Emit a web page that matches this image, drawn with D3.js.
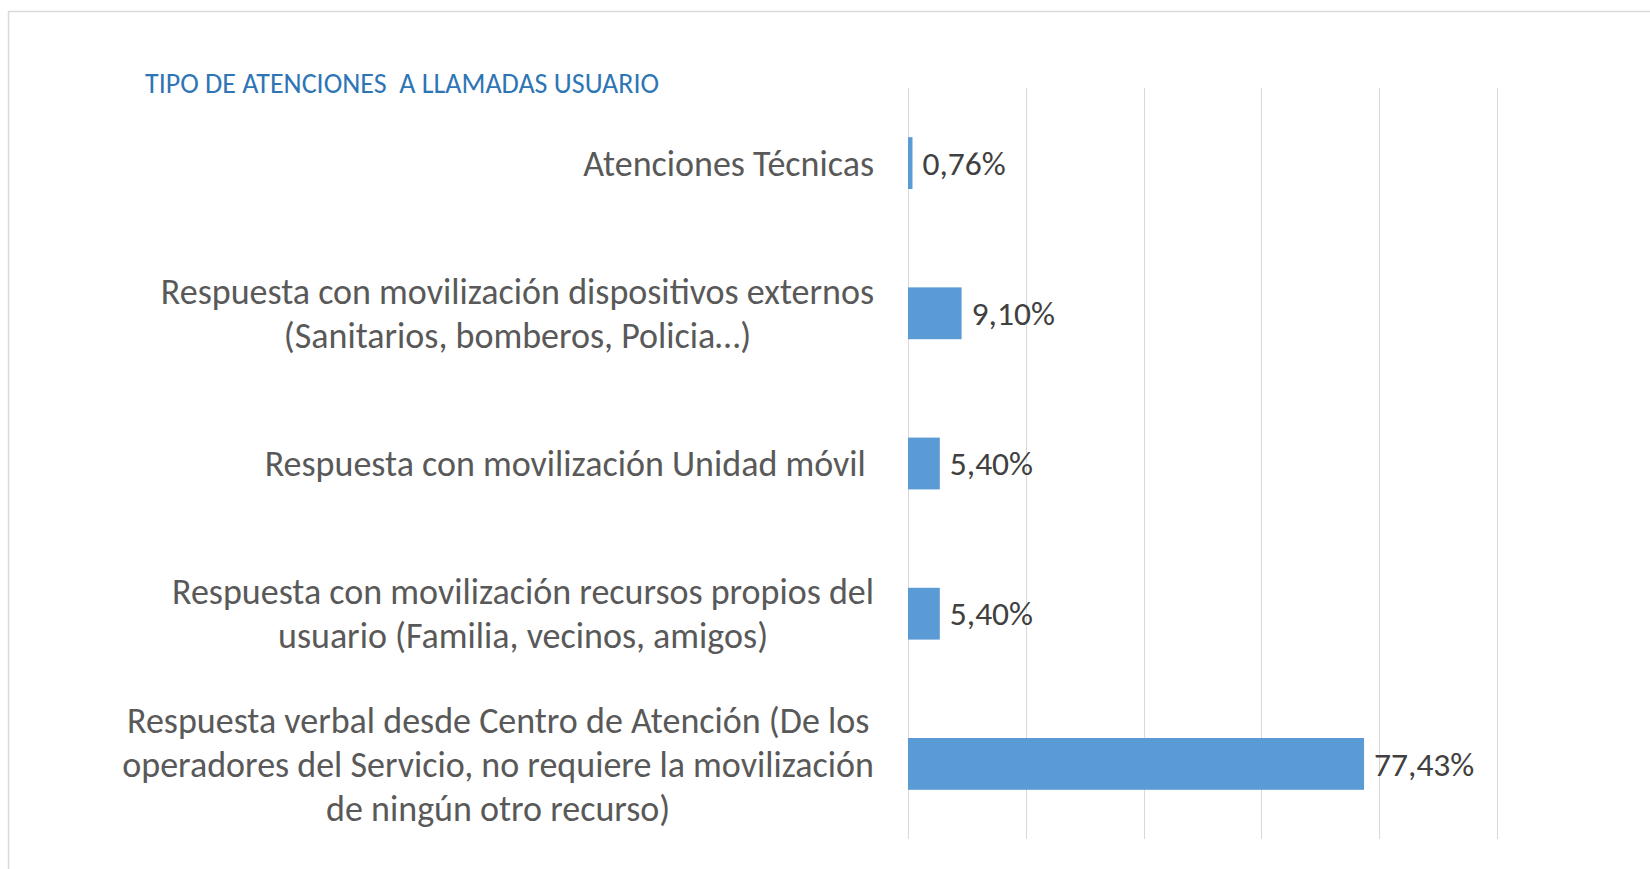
<!DOCTYPE html>
<html>
<head>
<meta charset="utf-8">
<script src="https://d3js.org/d3.v7.min.js"></script>
<style>
  html, body { margin: 0; padding: 0; background: #fff; }
  svg { display: block; }
  text { font-family: Carlito, Calibri, Lato, sans-serif; white-space: pre; }
</style>
</head>
<body>
<div id="graph"></div>
<script>

var title = "TIPO DE ATENCIONES  A LLAMADAS USUARIO";

// categories, top to bottom, each split into its label lines
var categories = [
    "Atenciones Técnicas",
    "Respuesta con movilización dispositivos externos",
    "Respuesta con movilización Unidad móvil",
    "Respuesta con movilización recursos propios del",
    "Respuesta verbal desde Centro de Atención"
];
var labelLines = [
    ["Atenciones Técnicas"],
    ["Respuesta con movilización dispositivos externos", "(Sanitarios, bomberos, Policia…)"],
    ["Respuesta con movilización Unidad móvil "],
    ["Respuesta con movilización recursos propios del", "usuario (Familia, vecinos, amigos)"],
    ["Respuesta verbal desde Centro de Atención (De los", "operadores del Servicio, no requiere la movilización", "de ningún otro recurso)"]
];
var values = [0.0076, 0.091, 0.054, 0.054, 0.7743];
var valueLabels = ["0,76%", "9,10%", "5,40%", "5,40%", "77,43%"];
var ticks = [0, 0.2, 0.4, 0.6, 0.8, 1.0];

var width = 1650;
var height = 869;
var margin = {top: 88, right: 153, bottom: 30, left: 908};

var svg = d3.select("#graph")
  .append("svg")
    .attr("width", width)
    .attr("height", height);

// chart area border
svg.append("rect")
    .attr("x", 8.5)
    .attr("y", 11.5)
    .attr("width", width)
    .attr("height", height)
    .attr("fill", "none")
    .attr("stroke", "#d9d9d9")
    .attr("stroke-width", 1.5);

var x = d3.scaleLinear()
    .domain([0, 1])
    .range([margin.left, width - margin.right]);

var y = d3.scaleBand()
    .domain(categories)
    .range([margin.top, height - margin.bottom])
    .paddingInner(0.655)
    .paddingOuter(0.3275);

// vertical gridlines
svg.append("g")
    .attr("class", "grid")
    .selectAll("line")
        .data(ticks)
        .enter()
            .append("line")
            .attr("x1", function(d) { return Math.round(x(d)) + 0.5; })
            .attr("x2", function(d) { return Math.round(x(d)) + 0.5; })
            .attr("y1", margin.top)
            .attr("y2", height - margin.bottom)
            .attr("stroke", "#d9d9d9")
            .attr("stroke-width", 1);

svg.append("g")
    .attr("class", "bars")
    .selectAll("rect")
        .data(values)
        .enter()
            .append("rect")
            .attr("x", x(0))
            .attr("y", function(d, i) { return y(categories[i]); })
            .attr("width", function(d) { return x(d) - x(0); })
            .attr("height", y.bandwidth())
            .attr("fill", "#5b9bd5");

svg.append("g")
    .attr("class", "values")
    .selectAll("text")
        .data(values)
        .enter()
            .append("text")
            .attr("x", function(d) { return x(d) + 10; })
            .attr("y", function(d, i) { return y(categories[i]) + y.bandwidth() / 2; })
            .attr("dy", "0.35em")
            .attr("font-size", 33.5)
            .attr("fill", "#404040")
            .text(function(d, i) { return valueLabels[i]; });

// category labels: block right aligned, lines centred inside the block
var lineHeight = 44;
var labelRight = 874;

var labels = svg.append("g")
    .attr("class", "labels")
    .selectAll("g")
        .data(labelLines)
        .enter()
            .append("g");

labels.each(function(lines, i) {
    var g = d3.select(this);
    var cy = y(categories[i]) + y.bandwidth() / 2;
    var texts = g.selectAll("text")
        .data(lines)
        .enter()
            .append("text")
            .attr("y", function(d, j) { return cy + (j - (lines.length - 1) / 2) * lineHeight; })
            .attr("dy", "0.35em")
            .attr("font-size", 36)
            .attr("fill", "#595959")
            .attr("text-anchor", "middle")
            .text(function(d) { return d; });

    var maxW = 0;
    texts.each(function() { maxW = Math.max(maxW, this.getComputedTextLength()); });
    texts.attr("x", labelRight - maxW / 2);
});

svg.append("text")
    .attr("x", 145)
    .attr("y", 93)
    .attr("font-size", 28)
    .attr("fill", "#2e75b6")
    .text(title);

</script>
</body>
</html>
